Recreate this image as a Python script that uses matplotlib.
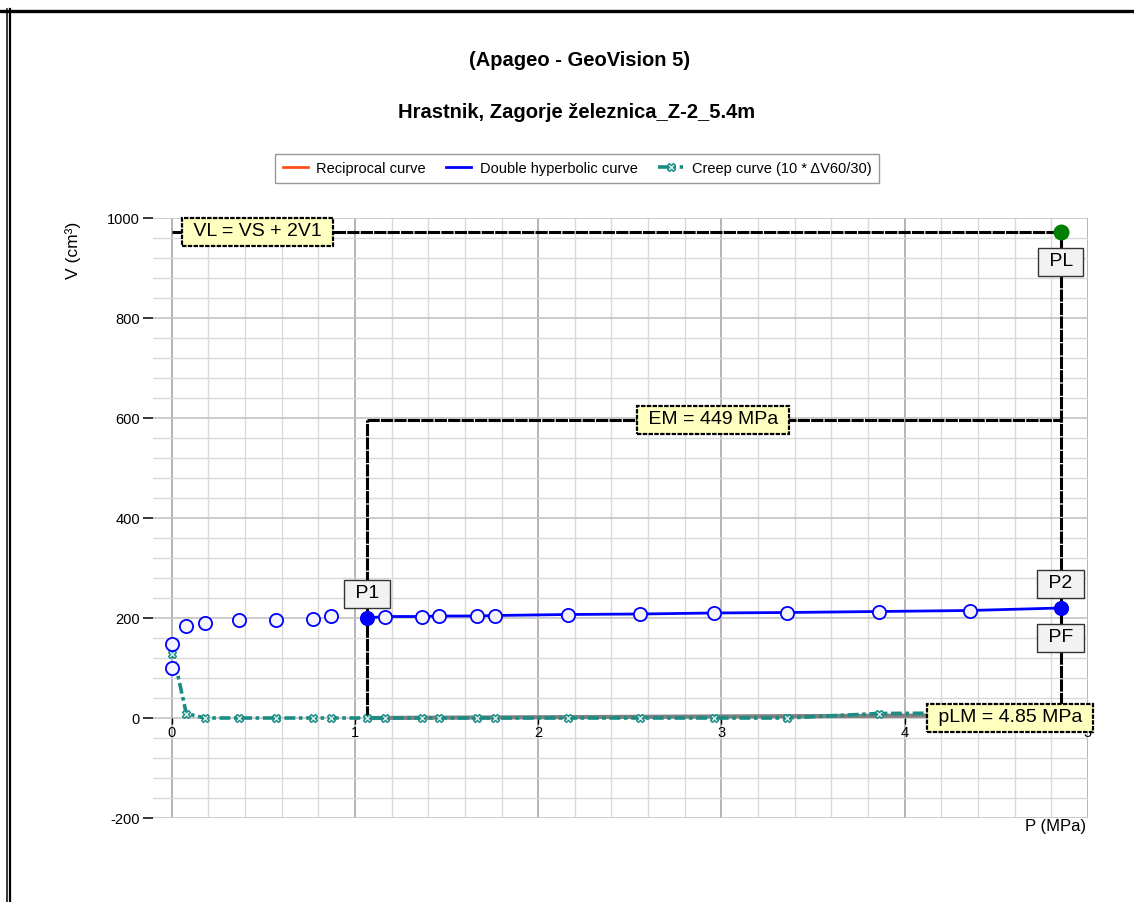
import matplotlib
matplotlib.use("Agg")
import matplotlib.pyplot as plt
from matplotlib.lines import Line2D
import numpy as np

plt.rcParams['font.family'] = ['Liberation Sans', 'DejaVu Sans']

# Pressuremeter test readings
pressure = [0.0, 0.0, 0.08, 0.18, 0.37, 0.57, 0.77, 0.87, 1.066, 1.165, 1.365,
            1.46, 1.665, 1.762, 2.162, 2.558, 2.957, 3.357, 3.857, 4.354, 4.85]
volume = [100, 149, 185, 191, 196, 197, 199, 204, 200, 203, 203,
          204, 204, 205, 207, 208, 210, 211, 213, 215, 220]
creep = [129, 142, 9, 0, 0, 0, 0, 0, 0, 0, 0,
         0, 0, 0, 0, 0, 0, 0, 9, 10, 11]

p1_index = 8            # start of the pseudo-elastic range
p_lm = 4.85             # limit pressure (MPa)
v_l = 972               # limit volume VL (cm3)
em_level = 596          # level of the modulus annotation line
em_value = 449          # Menard modulus (MPa)
baseline_p = [1.066, 4.85]
baseline_v = [0, 6]

x_ticks = [0, 1, 2, 3, 4, 5]
y_ticks = [-200, 0, 200, 400, 600, 800, 1000]

BLUE = '#0000FF'
TEAL = '#1A8C84'
ORANGE = '#FF4F1A'
YELLOW = '#FFFFC0'

fig = plt.figure(figsize=(11.34, 9.02), dpi=100)
W, H = 1134, 902
ax = fig.add_axes([153.3 / W, 1 - 818 / H, (1088 - 153.3) / W, (818 - 218) / H])
ax.set_xlim(-0.1, 5)
ax.set_ylim(-200, 1000)

# grid
for x in np.arange(0, 5.01, 0.2):
    major = abs(x - round(x)) < 1e-6
    ax.axvline(x, color='#A8A8A8' if major else '#D9D9D9', lw=1.2 if major else 1.0, zorder=0)
for y in np.arange(-200, 1001, 40):
    major = abs(y % 200) < 1e-6
    ax.axhline(y, color='#C4C4C4' if major else '#D9D9D9', lw=1.2 if major else 1.0, zorder=0)

for s in ['top', 'right', 'left']:
    ax.spines[s].set_visible(False)
ax.spines['bottom'].set_position(('data', 0))
ax.spines['bottom'].set_visible(False)

ax.set_yticks(y_ticks)
ax.set_yticklabels([str(v) for v in y_ticks])
ax.tick_params(axis='y', direction='out', length=7.5, width=1.1, pad=2, labelsize=10.5, color='black')
ax.set_xticks(x_ticks)
ax.set_xticklabels([str(v) for v in x_ticks])
ax.tick_params(axis='x', direction='out', length=4, width=1.0, pad=2, labelsize=10.5, color='black')

P = np.array(pressure)
V = np.array(volume)
C = np.array(creep)
p1x, p1y = P[p1_index], V[p1_index]
p2x, p2y = P[-1], V[-1]

ref = dict(color='black', lw=2.2, ls=(0, (4, 0.4)), zorder=3)
# limit volume and limit pressure lines
ax.plot([0, p_lm], [v_l, v_l], **ref)
ax.plot([p_lm, p_lm], [0, v_l], **ref)
# modulus range frame
ax.plot([p1x, p1x], [0, em_level], **ref)
ax.plot([p1x, p_lm], [em_level, em_level], **ref)

# baseline
ax.plot(baseline_p, baseline_v, color='#808080', lw=3, zorder=2)

# creep curve
ax.plot(P, C, color=TEAL, lw=2.6, ls=(0, (3, 1, 1, 1)), marker='X', ms=6,
        mfc='#CFE8E5', mec=TEAL, mew=1, zorder=4)

# double hyperbolic curve over the pseudo-elastic range
ax.plot(P[p1_index:], V[p1_index:], color=BLUE, lw=2, zorder=5)
ax.plot(P, V, ls='none', marker='o', ms=9.5, mfc='#F4F4FA', mec=BLUE, mew=1.3, zorder=6)
ax.plot([p1x, p2x], [p1y, p2y], ls='none', marker='o', ms=9.5, mfc=BLUE, mec=BLUE, zorder=7)
ax.plot([p_lm], [v_l], ls='none', marker='o', ms=10.5, mfc='#008000', mec='#008000', zorder=7)

yellow_box = dict(boxstyle='square,pad=0.3', fc=YELLOW, ec='black', lw=1.6, ls=(0, (2, 0.6)))
grey_box = dict(boxstyle='square,pad=0.3', fc='#F2F2F2', ec='#333333', lw=1.0)
tkw = dict(ha='center', va='center', fontsize=14, zorder=10)

ax.text(0.47, v_l, ' VL = VS + 2V1 ', bbox=yellow_box, **tkw)
ax.text(2.955, em_level, f' EM = {em_value} MPa ', bbox=yellow_box, **tkw)
ax.text(4.575, 0, f' pLM = {p_lm} MPa ', bbox=yellow_box, **tkw)
ax.text(p_lm, 912, ' PL ', bbox=grey_box, **tkw)
ax.text(p1x, 248, ' P1 ', bbox=grey_box, **tkw)
ax.text(p2x, 268, ' P2 ', bbox=grey_box, **tkw)
ax.text(p2x, 160, ' PF ', bbox=grey_box, **tkw)

# titles
fig.text(580 / W, 1 - 60 / H, '(Apageo - GeoVision 5)', ha='center', va='center',
         fontsize=14.5, fontweight='bold')
fig.text(577 / W, 1 - 112 / H, 'Hrastnik, Zagorje železnica_Z-2_5.4m', ha='center', va='center',
         fontsize=14.5, fontweight='bold')

# legend
handles = [
    Line2D([], [], color=ORANGE, lw=2),
    Line2D([], [], color=BLUE, lw=2),
    Line2D([], [], color=TEAL, lw=2.6, ls=(0, (3, 1, 1, 1)), marker='X', ms=6,
           mfc='#CFE8E5', mec=TEAL),
]
labels = ['Reciprocal curve', 'Double hyperbolic curve', 'Creep curve (10 * ΔV60/30)']
leg = fig.legend(handles, labels, loc='center', bbox_to_anchor=(577 / W, 1 - 168.5 / H),
                 ncol=3, fontsize=10.5, frameon=True, fancybox=False, handlelength=1.7,
                 columnspacing=1.4, handletextpad=0.6, borderpad=0.5)
leg.get_frame().set_edgecolor('#808080')
leg.get_frame().set_linewidth(1.0)

# axis labels
fig.text(73 / W, 1 - 250 / H, 'V (cm³)', rotation=90, ha='center', va='center', fontsize=12.5)
fig.text(1086 / W, 1 - 827 / H, 'P (MPa)', ha='right', va='center', fontsize=12)

# outer frame
fig.add_artist(Line2D([0, 1], [1 - 10.5 / H, 1 - 10.5 / H], color='black', lw=2.4,
                      transform=fig.transFigure))
fig.add_artist(Line2D([7.3 / W, 7.3 / W], [0, 1 - 9 / H], color='black', lw=1.1,
                      transform=fig.transFigure))
fig.add_artist(Line2D([10.2 / W, 10.2 / W], [0, 1 - 9 / H], color='black', lw=1.6,
                      transform=fig.transFigure))

fig.savefig('out.png', dpi=100, facecolor='white')
